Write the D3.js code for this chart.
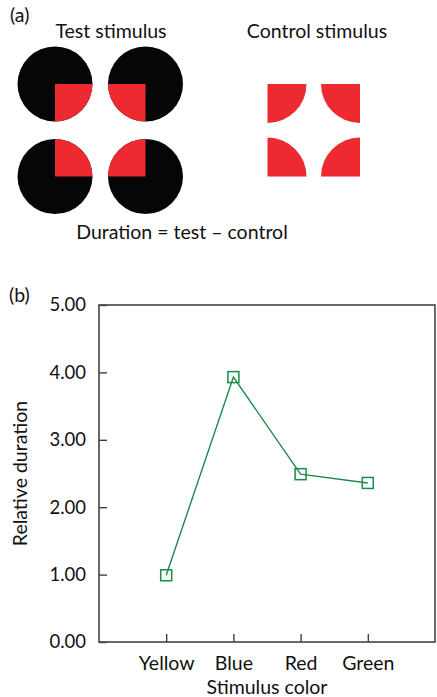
<!DOCTYPE html>
<html><head><meta charset="utf-8">
<script src="https://cdn.jsdelivr.net/npm/d3@7"></script>
<style>
html,body{margin:0;padding:0;background:#fff;}
svg{display:block;}
text{font-family:Lato,"Open Sans",sans-serif;fill:#111;}
</style></head>
<body>
<script>
// ---- data ----
const categories = ["Yellow", "Blue", "Red", "Green"];
const values = [0.99, 3.93, 2.49, 2.36];
const yTicks = [0, 1, 2, 3, 4, 5];
const testQuadrants = [            // [row, col, start angle of red quarter (deg)]
  [0, 0, 90], [0, 1, 180], [1, 0, 0], [1, 1, 270]
];
const controlQuadrants = [
  [0, 0, 90], [0, 1, 180], [1, 0, 0], [1, 1, 270]
];

const W = 437, H = 697;
const svg = d3.select("body").append("svg").attr("width", W).attr("height", H);
const FS = 19.5, FN = 18.5;
const red = "#ec2a2f", black = "#060606", green = "#1b8b4b";

// ---- panel (a) ----
svg.append("text").attr("x", 10).attr("y", 22).attr("font-size", FS).text("(a)");
svg.append("text").attr("x", 111).attr("y", 38).attr("text-anchor", "middle").attr("font-size", FS).text("Test stimulus");
svg.append("text").attr("x", 317).attr("y", 38).attr("text-anchor", "middle").attr("font-size", FS).text("Control stimulus");

const R = 37.5;
const testX = d3.scalePoint().domain([0, 1]).range([55, 145.5]);
const rowY = d3.scalePoint().domain([0, 1]).range([84, 176.5]);
const arc = d3.arc().innerRadius(0).outerRadius(R);
const deg = Math.PI / 180;

const tg = svg.append("g");
testQuadrants.forEach(([r, c, a]) => {
  const g = tg.append("g").attr("transform", `translate(${testX(c)},${rowY(r)})`);
  g.append("circle").attr("r", R).attr("fill", black);
  g.append("path").attr("d", arc({startAngle: a * deg, endAngle: (a + 90) * deg})).attr("fill", red);
});

// control: quarter pies centred on the outer corners
const ctrlX = d3.scalePoint().domain([0, 1]).range([267.5, 360]);
const ctrlArc = d3.arc().innerRadius(0).outerRadius(39);
controlQuadrants.forEach(([r, c, a]) => {
  svg.append("path")
    .attr("transform", `translate(${ctrlX(c)},${rowY(r)})`)
    .attr("d", ctrlArc({startAngle: a * deg, endAngle: (a + 90) * deg}))
    .attr("fill", red);
});

svg.append("text").attr("x", 182).attr("y", 239).attr("text-anchor", "middle").attr("font-size", FS)
  .text("Duration = test \u2013 control");

// ---- panel (b) ----
svg.append("text").attr("x", 9).attr("y", 302).attr("font-size", FS).text("(b)");

const x0 = 99, x1 = 435, y0 = 642, y1 = 305;
const x = d3.scalePoint().domain(categories).range([x0, x1]).padding(1);
const y = d3.scaleLinear().domain([0, 5]).range([y0, y1]);

const yAxis = svg.append("g").attr("transform", `translate(${x0},0)`)
  .call(d3.axisLeft(y).tickValues(yTicks).tickFormat(d3.format(".2f")).tickSize(-8).tickPadding(13));
const xAxis = svg.append("g").attr("transform", `translate(0,${y0})`)
  .call(d3.axisBottom(x).tickSize(-8).tickPadding(14));
[yAxis, xAxis].forEach(a => {
  a.select(".domain").remove();
  a.selectAll("line").attr("stroke", "#333").attr("stroke-width", 1.3);
  a.selectAll("text").attr("fill", "#111").attr("font-family", "Lato, 'Open Sans', sans-serif");
});
yAxis.selectAll("text").attr("font-size", FN);
xAxis.selectAll("text").attr("font-size", FS);

svg.append("rect").attr("x", x0).attr("y", y1).attr("width", x1 - x0).attr("height", y0 - y1)
  .attr("fill", "none").attr("stroke", "#444").attr("stroke-width", 1.6);

const pts = categories.map((c, i) => [x(c), y(values[i])]);
svg.append("path").attr("d", d3.line()(pts)).attr("fill", "none").attr("stroke", green).attr("stroke-width", 1.4);
svg.selectAll(".mk").data(pts).join("rect").attr("class", "mk")
  .attr("x", d => d[0] - 5.5).attr("y", d => d[1] - 5.5).attr("width", 11).attr("height", 11)
  .attr("fill", "none").attr("stroke", green).attr("stroke-width", 1.5);

svg.append("text").attr("transform", `translate(27,${(y0 + y1) / 2}) rotate(-90)`)
  .attr("text-anchor", "middle").attr("font-size", FS).text("Relative duration");
svg.append("text").attr("x", (x0 + x1) / 2).attr("y", 694).attr("text-anchor", "middle")
  .attr("font-size", FS).text("Stimulus color");
</script>
</body></html>
